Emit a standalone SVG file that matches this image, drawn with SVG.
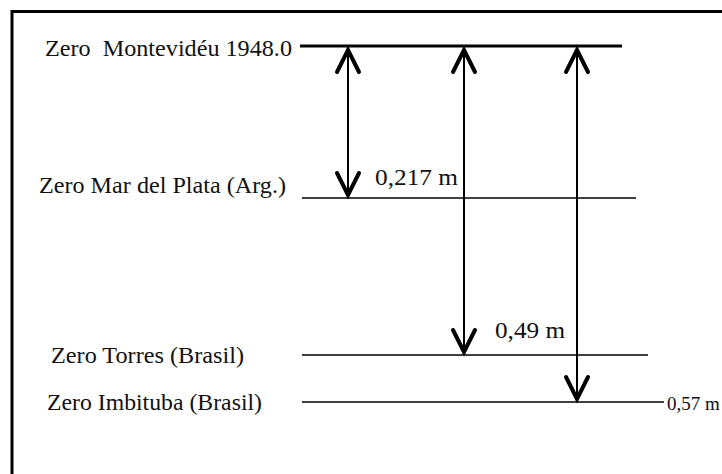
<svg xmlns="http://www.w3.org/2000/svg" width="722" height="474" viewBox="0 0 722 474">
  <style>
    .lbl { font-family: "Liberation Serif", "Times New Roman", serif; font-size: 23px; fill: #111; white-space: pre; }
    .lbl-edge { font-family: "Liberation Serif", "Times New Roman", serif; font-size: 19px; fill: #111; }
    .frame { stroke: #000; stroke-width: 3; fill: none; }
    .datum { stroke: #000; stroke-width: 1.5; fill: none; }
    .datum-main { stroke: #000; stroke-width: 3; fill: none; }
    .shaft { stroke: #000; stroke-width: 2; fill: none; }
    .head { stroke: #000; stroke-width: 4; fill: none; stroke-linecap: round; stroke-linejoin: miter; }
  </style>
  <rect x="0" y="0" width="722" height="474" fill="#fff"/>

  <!-- outer frame: top and left edges -->
  <path class="frame" d="M12 474 V11.5 H722"/>

  <g id="zero-montevideu">
    <text class="lbl" x="45" y="56" textLength="247" lengthAdjust="spacingAndGlyphs">Zero  Montevidéu 1948.0</text>
    <line class="datum-main" x1="300" y1="46" x2="622" y2="46"/>
  </g>

  <g id="zero-mar-del-plata">
    <text class="lbl" x="39" y="193" textLength="247" lengthAdjust="spacingAndGlyphs">Zero Mar del Plata (Arg.)</text>
    <line class="datum" x1="302" y1="198" x2="636" y2="198"/>
  </g>

  <g id="zero-torres">
    <text class="lbl" x="51" y="363" textLength="193" lengthAdjust="spacingAndGlyphs">Zero Torres (Brasil)</text>
    <line class="datum" x1="302" y1="355" x2="648" y2="355"/>
  </g>

  <g id="zero-imbituba">
    <text class="lbl" x="47" y="410" textLength="215" lengthAdjust="spacingAndGlyphs">Zero Imbituba (Brasil)</text>
    <line class="datum" x1="302" y1="402" x2="664" y2="402"/>
  </g>

  <g id="connectors">
    <!-- Montevidéu to Mar del Plata -->
    <line class="shaft" x1="348" y1="47" x2="348" y2="197"/>
    <path class="head" d="M337 72 L348 50 L359 72"/>
    <path class="head" d="M337 173 L348 195 L359 173"/>
    <!-- Montevidéu to Torres -->
    <line class="shaft" x1="464" y1="47" x2="464" y2="354"/>
    <path class="head" d="M453 72 L464 50 L475 72"/>
    <path class="head" d="M453 330 L464 352 L475 330"/>
    <!-- Montevidéu to Imbituba -->
    <line class="shaft" x1="577" y1="47" x2="577" y2="401"/>
    <path class="head" d="M566 72 L577 50 L588 72"/>
    <path class="head" d="M566 377 L577 399 L588 377"/>
  </g>

  <g id="offsets">
    <text class="lbl" x="375" y="185" textLength="83" lengthAdjust="spacingAndGlyphs">0,217 m</text>
    <text class="lbl" x="495" y="338" textLength="70" lengthAdjust="spacingAndGlyphs">0,49 m</text>
    <text class="lbl-edge" x="667" y="410">0,57 m</text>
  </g>
</svg>
